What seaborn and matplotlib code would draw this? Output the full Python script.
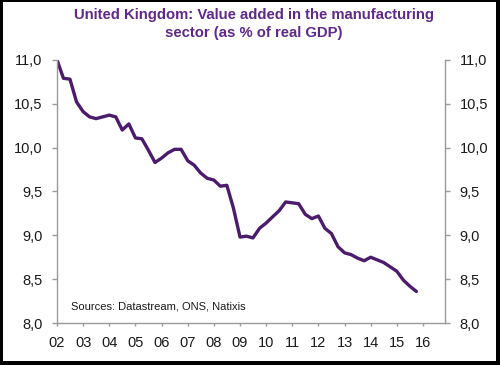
import matplotlib
matplotlib.use("Agg")
import matplotlib.pyplot as plt
import matplotlib.dates as mdates
from matplotlib.patches import Rectangle
from matplotlib.ticker import FuncFormatter
import pandas as pd
import seaborn as sns

# quarterly manufacturing value added, % of real GDP, 2002Q1 - 2015Q4
quarters = pd.period_range("2002Q1", "2015Q4", freq="Q").to_timestamp()
share = [11.00, 10.79, 10.78, 10.52,
         10.41, 10.35, 10.33, 10.35,
         10.37, 10.35, 10.20, 10.27,
         10.11, 10.10, 9.97, 9.83,
         9.88, 9.94, 9.98, 9.98,
         9.85, 9.80, 9.71, 9.65,
         9.63, 9.56, 9.57, 9.31,
         8.98, 8.99, 8.97, 9.08,
         9.14, 9.21, 9.28, 9.38,
         9.37, 9.36, 9.24, 9.19,
         9.22, 9.08, 9.02, 8.87,
         8.80, 8.78, 8.74, 8.71,
         8.75, 8.72, 8.69, 8.64,
         8.59, 8.49, 8.42, 8.36]
year_ticks = pd.date_range("2002-01-01", "2016-01-01", freq="YS")
y_ticks = [8.0, 8.5, 9.0, 9.5, 10.0, 10.5, 11.0]

df = pd.DataFrame({"date": quarters, "share": share})

sns.set_style("white")
plt.rcParams["font.family"] = ["Liberation Sans", "DejaVu Sans"]

fig = plt.figure(figsize=(5.0, 3.65), dpi=100)
fig.patch.set_facecolor("black")
# white card inside the black frame
fig.patches.append(Rectangle((3 / 500, 4 / 365), 493 / 500, 359 / 365,
                             transform=fig.transFigure, facecolor="white",
                             edgecolor="none", zorder=-10))

ax = fig.add_axes([0.114, 0.115, 0.776, 0.721])
ax.set_facecolor("none")
ax.set_zorder(5)
sns.lineplot(data=df, x="date", y="share", color="#4b1c6b", linewidth=2.4, ax=ax)

ax.set_ylim(8.0, 11.0)
ax.set_xlim(pd.Timestamp("2002-01-01"), pd.Timestamp("2016-11-04"))
ax.set_yticks(y_ticks)
ax.yaxis.set_major_formatter(FuncFormatter(lambda v, p: f"{v:.1f}".replace(".", ",")))
ax.set_xticks(year_ticks)
ax.xaxis.set_major_formatter(mdates.DateFormatter("%y"))
ax.set_xlabel("")
ax.set_ylabel("")

for side in ["left", "right", "bottom"]:
    ax.spines[side].set_visible(True)
    ax.spines[side].set_color("#9a9a9a")
    ax.spines[side].set_linewidth(1.0)
ax.spines["top"].set_visible(False)

ax.tick_params(axis="y", which="both", left=True, right=True, labelleft=True,
               labelright=True, direction="out", length=3.5, width=1,
               color="#9a9a9a", pad=7, labelsize=10.5, labelcolor="#1a1a1a")
ax.tick_params(axis="x", bottom=True, direction="out", length=2.5, width=1,
               color="#9a9a9a", pad=7, labelsize=10.5, labelcolor="#1a1a1a")

ax.text(0.036, 0.061, "Sources: Datastream, ONS, Natixis", transform=ax.transAxes,
        fontsize=8, color="#1a1a1a", va="center", ha="left")

fig.text(0.508, 0.960, "United Kingdom: Value added in the manufacturing",
         ha="center", va="center", fontsize=10.7, fontweight="bold", color="#5e2a86")
fig.text(0.508, 0.910, "sector (as % of real GDP)",
         ha="center", va="center", fontsize=10.7, fontweight="bold", color="#5e2a86")

fig.savefig("out.png", dpi=100, facecolor=fig.get_facecolor())
